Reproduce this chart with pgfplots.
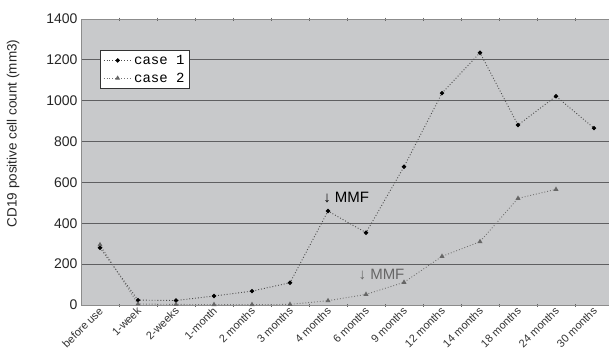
\documentclass[border=0pt]{standalone}
\usepackage{fontspec}
\setmainfont{Liberation Sans}
\newfontfamily\monofont{Liberation Mono}
\usepackage{pgfplots}
\pgfplotsset{compat=1.18}
\definecolor{bg}{RGB}{200,201,203}
\definecolor{gridc}{RGB}{95,95,97}
\begin{document}
\begin{tikzpicture}
\useasboundingbox (-81pt,-55pt) rectangle (528pt,305pt);
\begin{axis}[
  at={(0,0)}, anchor=south west,
  scale only axis, width=528pt, height=286pt,
  xmin=-0.5, xmax=13.395, ymin=0, ymax=1400,
  axis background/.style={fill=bg},
  axis line style={draw=black!45},
  ytick={0,200,...,1400},
  ymajorgrids, grid style={draw=gridc, line width=0.9pt},
  major y tick style={draw=none},
  yticklabel style={font=\fontsize{14}{14}\selectfont, text=black!85},
  /pgf/number format/assume math mode=true,
  /pgf/number format/1000 sep={},
  xtick={0,...,13},
  xticklabels={before use,1-week,2-weeks,1-month,2 months,3 months,4 months,6 months,9 months,12 months,14 months,18 months,24 months,30 months},
  major x tick style={draw=none},
  minor xtick={0.5,1.5,...,12.5},
  minor tick length=3pt,
  xtick align=center,
  minor x tick style={draw=black!60},
  xticklabel style={rotate=45, anchor=east, font=\fontsize{11}{11}\selectfont, text=black!80, inner sep=0.5pt, yshift=-2pt},
  ylabel={CD19 positive cell count (mm3)},
  ylabel style={at={(axis description cs:-0.11,0.6)}, anchor=south, font=\fontsize{13.5}{14}\selectfont, text=black!85},
  legend image code/.code={\draw[mark repeat=2,mark phase=2,#1] plot coordinates {(0pt,0pt) (14pt,0pt) (28pt,0pt)};},
  legend style={at={(0.036,0.892)}, anchor=north west, font=\monofont\fontsize{14}{16}\selectfont, draw=black!80, fill=white, inner xsep=3pt, inner ysep=3pt, row sep=3pt, legend cell align=left},
]
\addplot[dotted, draw=black!70, line width=0.9pt, mark=*, mark size=1.7pt, mark options={solid, fill=black, draw=black}]
coordinates {(0,280) (1,24) (2,22) (3,44) (4,68) (5,109) (6,460) (7,354) (8,677) (9,1037) (10,1235) (11,881) (12,1022) (13,866)};
\addlegendentry{case 1}
\addplot[dotted, draw=black!55, line width=0.9pt, mark=triangle*, mark size=2pt, mark options={solid, fill=black!60, draw=black!60}]
coordinates {(0,295) (1,5) (2,3) (3,2) (4,2) (5,3) (6,21) (7,52) (8,111) (9,238) (10,310) (11,522) (12,566)};
\addlegendentry{case 2}
\node[anchor=west, font=\fontsize{15}{15}\selectfont, inner sep=0pt] at (axis cs:5.87,524) {↓ MMF};
\node[anchor=west, font=\fontsize{15}{15}\selectfont, text=black!60, inner sep=0pt] at (axis cs:6.8,147) {↓ MMF};
\end{axis}
\end{tikzpicture}
\end{document}
